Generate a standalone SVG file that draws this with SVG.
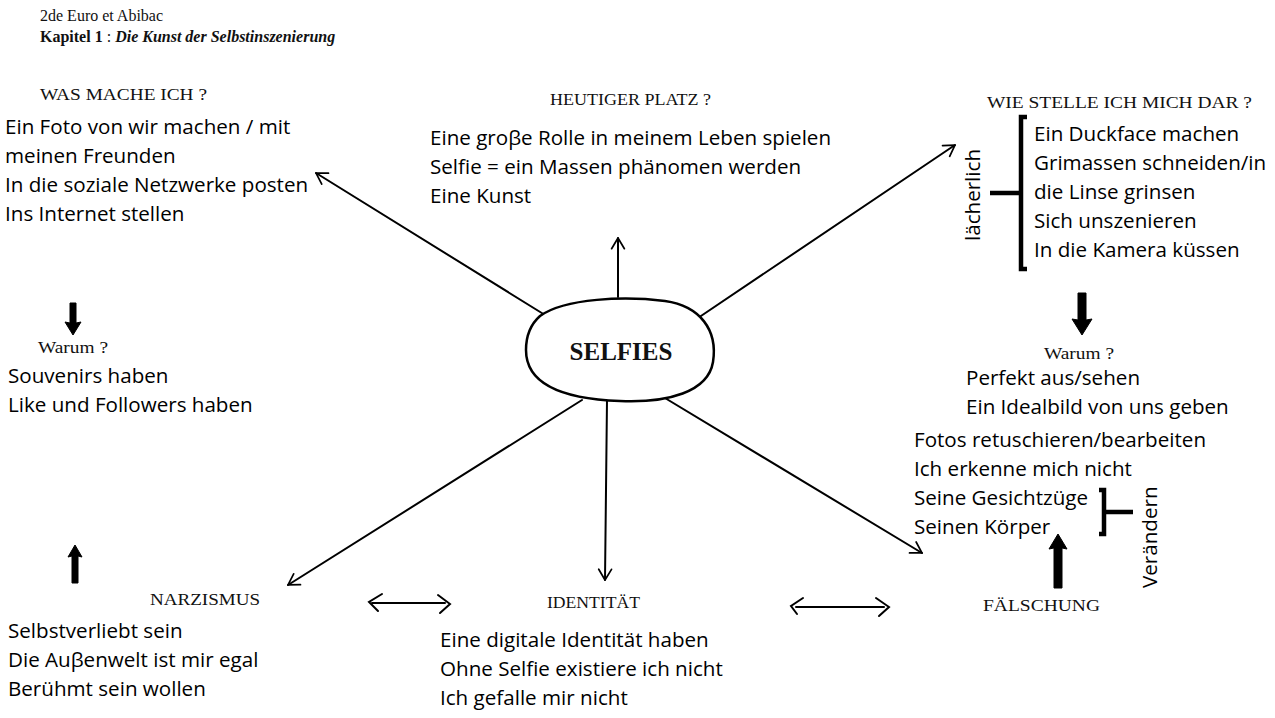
<svg xmlns="http://www.w3.org/2000/svg" width="1275" height="718" viewBox="0 0 1275 718">
<style>
.t{font-family:"Liberation Serif","Times New Roman",serif;fill:#111}
.b{font-family:"Open Sans","Noto Sans",sans-serif;font-size:20.6px;fill:#000}
.h{font-size:17px}
.w{font-size:16px}
.line{stroke:#000;stroke-width:2;fill:none;stroke-linecap:round}
.thick{fill:#000;stroke:#000;stroke-width:1}
.br{stroke:#000;stroke-width:4.5;fill:none}
</style>
<defs>
<marker id="ah" viewBox="0 0 12 12" refX="10" refY="6" markerWidth="8" markerHeight="8" markerUnits="userSpaceOnUse" orient="auto" overflow="visible">
<path d="M0,0 L10,6 L0,12" fill="none" stroke="#000" stroke-width="1.6" stroke-linecap="round" stroke-linejoin="round" transform="scale(1.6) translate(-3.8,-2.25)"/>
</marker>
</defs>
<rect width="1275" height="718" fill="#fff"/>

<g id="header">
<text class="t" x="40" y="21" font-size="16">2de Euro et Abibac</text>
<text class="t" x="40" y="42" font-size="16"><tspan font-weight="bold">Kapitel 1</tspan> : <tspan font-weight="bold" font-style="italic">Die Kunst der Selbstinszenierung</tspan></text>
</g>

<g id="connectors">
<path class="line" d="M545,315 L316,173" marker-end="url(#ah)"/>
<path class="line" d="M618,297 L618,238" marker-end="url(#ah)"/>
<path class="line" d="M695,320 L955,145" marker-end="url(#ah)"/>
<path class="line" d="M582,400 L288,585" marker-end="url(#ah)"/>
<path class="line" d="M607,400 L605,580" marker-end="url(#ah)"/>
<path class="line" d="M660,395 L922,553" marker-end="url(#ah)"/>
<path class="line" d="M372,603 L445,603"/>
<path class="line" d="M438,595 L450,604 L440,613"/>
<path class="line" d="M382,594 L369,602 L378,611"/>
<path class="line" d="M796,607 L884,607"/>
<path class="line" d="M876,598 L889,607 L879,616"/>
<path class="line" d="M803,598 L791,606 L797,614"/>
</g>

<g id="selfies">
<path d="M540,316 C565,298 625,296 665,301 C700,306 718,330 713,362 C708,392 668,403 620,401 C565,399 526,386 526,350 C526,336 531,324 540,316 Z" fill="#fff" stroke="#000" stroke-width="2.5"/>
<text class="t" x="621" y="360" font-size="25" font-weight="bold" text-anchor="middle">SELFIES</text>
</g>

<g id="was-mache-ich">
<text class="t h" x="40" y="100" textLength="167" lengthAdjust="spacingAndGlyphs">WAS MACHE ICH ?</text>
<text class="b" x="5" y="134">Ein Foto von wir machen / mit</text>
<text class="b" x="5" y="163">meinen Freunden</text>
<text class="b" x="5" y="192">In die soziale Netzwerke posten</text>
<text class="b" x="5" y="221">Ins Internet stellen</text>
</g>

<g id="warum-left">
<path class="thick" d="M70,303 L76,303 L76,323 L81,322 L73,335 L65,322 L70,323 Z"/>
<text class="t w" x="38" y="353" textLength="70" lengthAdjust="spacingAndGlyphs">Warum ?</text>
<text class="b" x="8" y="383">Souvenirs haben</text>
<text class="b" x="8" y="412">Like und Followers haben</text>
</g>

<g id="heutiger-platz">
<text class="t h" x="550" y="105" textLength="161" lengthAdjust="spacingAndGlyphs">HEUTIGER PLATZ ?</text>
<text class="b" x="430" y="145">Eine groβe Rolle in meinem Leben spielen</text>
<text class="b" x="430" y="174">Selfie = ein Massen phänomen werden</text>
<text class="b" x="430" y="203">Eine Kunst</text>
</g>

<g id="wie-stelle-ich">
<text class="t h" x="987" y="108" textLength="265" lengthAdjust="spacingAndGlyphs">WIE STELLE ICH MICH DAR ?</text>
<path class="br" d="M1027,117 L1021,117 L1021,269 L1027,269 M990,193 L1021,193"/>
<text class="b" x="0" y="0" transform="translate(980,241) rotate(-90)">lächerlich</text>
<text class="b" x="1034" y="141">Ein Duckface machen</text>
<text class="b" x="1034" y="170">Grimassen schneiden/in</text>
<text class="b" x="1034" y="199">die Linse grinsen</text>
<text class="b" x="1034" y="228">Sich unszenieren</text>
<text class="b" x="1034" y="257">In die Kamera küssen</text>
</g>

<g id="warum-right">
<path class="thick" d="M1078,293 L1086,293 L1086,320 L1092,319 L1082,335 L1072,319 L1078,320 Z"/>
<text class="t w" x="1044" y="359" textLength="70" lengthAdjust="spacingAndGlyphs">Warum ?</text>
<text class="b" x="966" y="385">Perfekt aus/sehen</text>
<text class="b" x="966" y="414">Ein Idealbild von uns geben</text>
</g>

<g id="faelschung">
<text class="b" x="914" y="447">Fotos retuschieren/bearbeiten</text>
<text class="b" x="914" y="476">Ich erkenne mich nicht</text>
<text class="b" x="914" y="505">Seine Gesichtzüge</text>
<text class="b" x="914" y="534">Seinen Körper</text>
<path class="br" d="M1099,490 L1104,490 L1104,534 L1099,534 M1104,512 L1133,512"/>
<text class="b" x="0" y="0" transform="translate(1157,588) rotate(-90)">Verändern</text>
<path class="thick" d="M1054,588 L1062,588 L1062,548 L1067,549 L1058,534 L1049,549 L1054,548 Z"/>
<text class="t h" x="983" y="611" textLength="117" lengthAdjust="spacingAndGlyphs">FÄLSCHUNG</text>
</g>

<g id="narzismus">
<path class="thick" d="M72,583 L78,583 L78,556 L82,557 L75,545 L68,557 L72,556 Z"/>
<text class="t h" x="150" y="605" textLength="110" lengthAdjust="spacingAndGlyphs">NARZISMUS</text>
<text class="b" x="8" y="638">Selbstverliebt sein</text>
<text class="b" x="8" y="667">Die Auβenwelt ist mir egal</text>
<text class="b" x="8" y="696">Berühmt sein wollen</text>
</g>

<g id="identitaet">
<text class="t h" x="547" y="608" textLength="93" lengthAdjust="spacingAndGlyphs">IDENTITÄT</text>
<text class="b" x="440" y="647">Eine digitale Identität haben</text>
<text class="b" x="440" y="676">Ohne Selfie existiere ich nicht</text>
<text class="b" x="440" y="705">Ich gefalle mir nicht</text>
</g>
</svg>
